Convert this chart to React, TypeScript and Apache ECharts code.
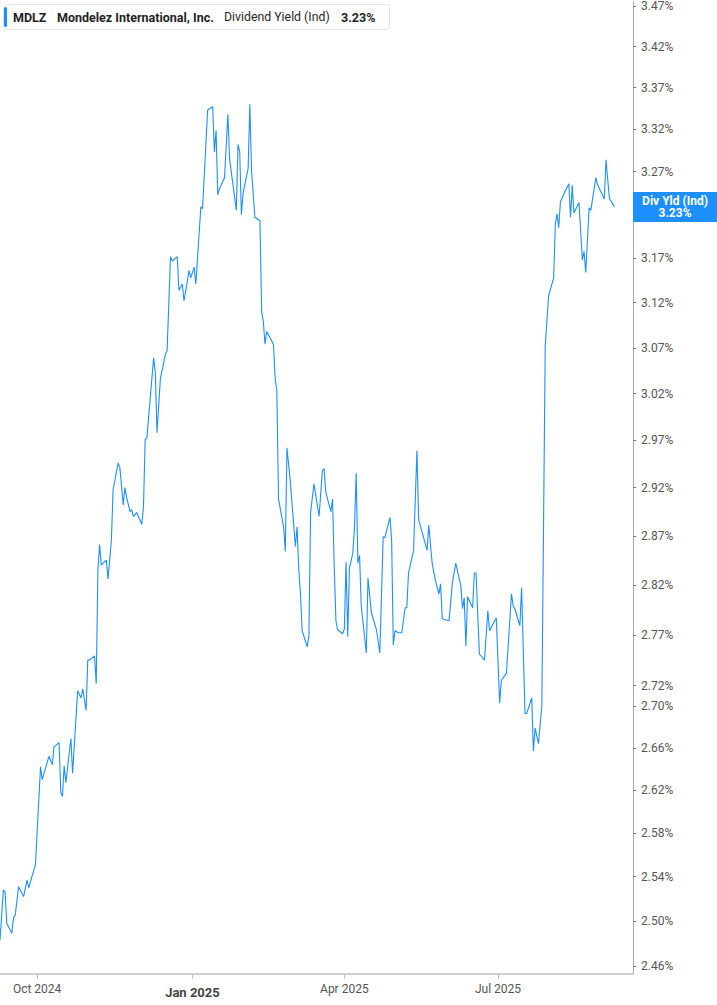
import React, { useEffect, useRef } from "react";
import * as echarts from "echarts";

const TICKER = "MDLZ";
const COMPANY = "Mondelez International, Inc.";
const METRIC = "Dividend Yield (Ind)";
const TAG_LABEL = "Div Yld (Ind)";

const DATES = [
  "2024-09-09","2024-09-11","2024-09-12","2024-09-13","2024-09-16","2024-09-17","2024-09-18","2024-09-20","2024-09-23","2024-09-25",
  "2024-09-26","2024-09-30","2024-10-03","2024-10-04","2024-10-08","2024-10-10","2024-10-11","2024-10-14","2024-10-15","2024-10-16",
  "2024-10-17","2024-10-18","2024-10-21","2024-10-22","2024-10-25","2024-10-27","2024-10-28","2024-10-30","2024-10-31","2024-11-01",
  "2024-11-04","2024-11-05","2024-11-06","2024-11-07","2024-11-08","2024-11-09","2024-11-11","2024-11-12","2024-11-14","2024-11-15",
  "2024-11-18","2024-11-19","2024-11-21","2024-11-22","2024-11-23","2024-11-25","2024-11-26","2024-11-27","2024-11-29","2024-11-30",
  "2024-12-02","2024-12-03","2024-12-04","2024-12-05","2024-12-09","2024-12-10","2024-12-11","2024-12-13","2024-12-16","2024-12-17",
  "2024-12-19","2024-12-20","2024-12-23","2024-12-24","2024-12-26","2024-12-27","2024-12-30","2024-12-31","2025-01-02","2025-01-03",
  "2025-01-06","2025-01-07","2025-01-10","2025-01-13","2025-01-14","2025-01-15","2025-01-16","2025-01-17","2025-01-20","2025-01-22",
  "2025-01-23","2025-01-27","2025-01-28","2025-01-29","2025-01-30","2025-01-31","2025-02-03","2025-02-04","2025-02-05","2025-02-07",
  "2025-02-10","2025-02-11","2025-02-12","2025-02-13","2025-02-14","2025-02-18","2025-02-19","2025-02-20","2025-02-21","2025-02-24",
  "2025-02-25","2025-02-26","2025-02-28","2025-03-03","2025-03-04","2025-03-05","2025-03-06","2025-03-07","2025-03-10","2025-03-11",
  "2025-03-12","2025-03-14","2025-03-17","2025-03-19","2025-03-20","2025-03-21","2025-03-24","2025-03-25","2025-03-26","2025-03-27",
  "2025-03-28","2025-03-31","2025-04-01","2025-04-02","2025-04-03","2025-04-04","2025-04-06","2025-04-07","2025-04-08","2025-04-09",
  "2025-04-10","2025-04-11","2025-04-14","2025-04-15","2025-04-17","2025-04-20","2025-04-22","2025-04-24","2025-04-25","2025-04-28",
  "2025-04-29","2025-04-30","2025-05-01","2025-05-03","2025-05-05","2025-05-07","2025-05-08","2025-05-09","2025-05-12","2025-05-14",
  "2025-05-15","2025-05-20","2025-05-21","2025-05-23","2025-05-25","2025-05-27","2025-05-28","2025-05-29","2025-06-02","2025-06-04",
  "2025-06-06","2025-06-09","2025-06-10","2025-06-11","2025-06-12","2025-06-13","2025-06-16","2025-06-17","2025-06-18","2025-06-20",
  "2025-06-23","2025-06-25","2025-06-26","2025-06-30","2025-07-02","2025-07-03","2025-07-06","2025-07-09","2025-07-10","2025-07-11",
  "2025-07-14","2025-07-15","2025-07-17","2025-07-18","2025-07-21","2025-07-22","2025-07-23","2025-07-25","2025-07-27","2025-07-29",
  "2025-07-31","2025-08-03","2025-08-04","2025-08-05","2025-08-06","2025-08-07","2025-08-10","2025-08-12","2025-08-13","2025-08-14",
  "2025-08-15","2025-08-18","2025-08-20","2025-08-21","2025-08-22","2025-08-24","2025-08-25","2025-08-28","2025-08-29","2025-09-02",
  "2025-09-03","2025-09-05","2025-09-08"
];

const YIELDS = [
  2.483, 2.528, 2.526, 2.498, 2.489, 2.503, 2.505, 2.531, 2.522, 2.537,
  2.530, 2.551, 2.642, 2.630, 2.652, 2.644, 2.661, 2.665, 2.618, 2.614,
  2.643, 2.627, 2.669, 2.636, 2.715, 2.708, 2.717, 2.696, 2.745, 2.745,
  2.749, 2.722, 2.835, 2.861, 2.840, 2.842, 2.845, 2.826, 2.866, 2.918,
  2.946, 2.941, 2.902, 2.920, 2.910, 2.895, 2.897, 2.890, 2.894, 2.890,
  2.882, 2.900, 2.971, 2.972, 3.059, 3.043, 2.978, 3.036, 3.063, 3.067,
  3.172, 3.167, 3.172, 3.134, 3.141, 3.122, 3.156, 3.148, 3.160, 3.141,
  3.229, 3.227, 3.343, 3.347, 3.293, 3.319, 3.243, 3.250, 3.263, 3.338,
  3.285, 3.225, 3.302, 3.294, 3.220, 3.245, 3.274, 3.350, 3.272, 3.217,
  3.213, 3.110, 3.099, 3.074, 3.088, 3.074, 3.037, 3.023, 2.908, 2.879,
  2.854, 2.962, 2.926, 2.859, 2.879, 2.835, 2.811, 2.774, 2.758, 2.769,
  2.894, 2.924, 2.890, 2.938, 2.940, 2.915, 2.895, 2.908, 2.838, 2.784,
  2.775, 2.771, 2.776, 2.843, 2.768, 2.837, 2.852, 2.879, 2.935, 2.842,
  2.850, 2.799, 2.752, 2.827, 2.792, 2.775, 2.752, 2.869, 2.868, 2.889,
  2.866, 2.760, 2.774, 2.772, 2.772, 2.797, 2.797, 2.832, 2.855, 2.959,
  2.887, 2.855, 2.881, 2.842, 2.824, 2.811, 2.821, 2.786, 2.784, 2.822,
  2.842, 2.819, 2.796, 2.807, 2.759, 2.808, 2.797, 2.832, 2.832, 2.751,
  2.745, 2.794, 2.774, 2.787, 2.703, 2.725, 2.732, 2.811, 2.799, 2.796,
  2.779, 2.817, 2.693, 2.693, 2.708, 2.657, 2.679, 2.664, 2.701, 3.072,
  3.128, 3.148, 3.210, 3.221, 3.205, 3.235, 3.248, 3.256, 3.217, 3.254,
  3.222, 3.234, 3.168, 3.178, 3.154, 3.228, 3.225, 3.263, 3.255, 3.238,
  3.284, 3.239, 3.229
];

// Tick positions on the right axis; the 3.22% label sits behind the value tag, so only its tick is drawn.
const Y_TICKS = [2.46, 2.5, 2.54, 2.58, 2.62, 2.66, 2.7, 2.72, 2.77, 2.82, 2.87, 2.92, 2.97, 3.02, 3.07, 3.12, 3.17, 3.22, 3.27, 3.32, 3.37, 3.42, 3.47];
const Y_LABELS = [2.46, 2.5, 2.54, 2.58, 2.62, 2.66, 2.7, 2.72, 2.77, 2.82, 2.87, 2.92, 2.97, 3.02, 3.07, 3.12, 3.17, 3.27, 3.32, 3.37, 3.42, 3.47];
const X_TICKS = ["2024-10-01", "2025-01-01", "2025-04-01", "2025-07-01"];
const MONTHS = ["Jan", "Feb", "Mar", "Apr", "May", "Jun", "Jul", "Aug", "Sep", "Oct", "Nov", "Dec"];
const Y_MIN = 2.453;
const Y_MAX = 3.475;
const X_MIN = "2024-09-09";
const X_MAX = "2025-09-19";

const BLUE = "#1e8fff";
const FONT = "Roboto, 'Noto Sans', sans-serif";

function ts(s: string): number {
  const [y, m, d] = s.split("-").map(Number);
  return new Date(y, m - 1, d).getTime();
}

export default function App() {
  const ref = useRef<HTMLDivElement>(null);

  useEffect(() => {
    const chart = echarts.init(ref.current!, null, { renderer: "svg" });
    const last = YIELDS[YIELDS.length - 1];
    const lastStr = last.toFixed(2) + "%";
    const xTickVals = X_TICKS.map(ts);
    const yTickVals = Y_TICKS.map((v) => Math.log(v));
    const yLabelVals = Y_LABELS.map((v) => Math.log(v));

    chart.setOption({
      animation: false,
      backgroundColor: "#ffffff",
      grid: { left: 0, right: 84, top: 0, bottom: 31, containLabel: false },
      xAxis: {
        type: "value",
        min: ts(X_MIN),
        max: ts(X_MAX),
        axisLine: { show: true, lineStyle: { color: "#c2c2c2", width: 1.5 } },
        axisTick: { show: true, customValues: xTickVals, length: 5, lineStyle: { color: "#c2c2c2", width: 1 } },
        axisLabel: {
          customValues: xTickVals,
          margin: 9,
          color: "#555",
          fontFamily: FONT,
          fontSize: 12,
          formatter: (v: number) => {
            const d = new Date(v);
            const label = MONTHS[d.getMonth()] + " " + d.getFullYear();
            return d.getMonth() === 0 ? "{b|" + label + "}" : "{a|" + label + "}";
          },
          rich: {
            a: { fontFamily: FONT, fontSize: 12, color: "#555" },
            b: { fontFamily: FONT, fontSize: 13, fontWeight: "bold", color: "#444", padding: [3, 0, 0, 0] },
          },
        },
        splitLine: { show: false },
      },
      yAxis: {
        type: "value",
        position: "right",
        min: Math.log(Y_MIN),
        max: Math.log(Y_MAX),
        axisLine: { show: true, lineStyle: { color: "#a8a8a8", width: 1 } },
        axisTick: { show: true, customValues: yTickVals, length: 3, lineStyle: { color: "#777" } },
        axisLabel: {
          customValues: yLabelVals,
          margin: 8,
          color: "#555",
          fontFamily: FONT,
          fontSize: 12,
          formatter: (v: number) => Math.exp(v).toFixed(2) + "%",
        },
        splitLine: { show: false },
      },
      series: [
        {
          type: "line",
          data: DATES.map((d, i) => [ts(d), Math.log(YIELDS[i])]),
          showSymbol: false,
          symbol: "none",
          lineStyle: { width: 1.1, color: BLUE },
          itemStyle: { color: BLUE },
          clip: true,
        },
      ],
    });

    const yPix = chart.convertToPixel({ yAxisIndex: 0 }, Math.log(last)) as number;
    const axisX = 717 - 84;

    chart.setOption({
      graphic: [
        {
          type: "group",
          z: 100,
          children: [
            { type: "rect", shape: { x: 3.5, y: 4.5, width: 386, height: 25, r: 3 }, style: { fill: "#fff", stroke: "#e4e4e4", lineWidth: 1 }, z: 100 },
            { type: "rect", shape: { x: 4, y: 7, width: 3, height: 20, r: 1.5 }, style: { fill: BLUE }, z: 101 },
            { type: "text", x: 13, y: 17, style: { text: TICKER, font: "bold 12.5px " + FONT, fill: "#1f1f1f", textVerticalAlign: "middle" }, z: 101 },
            { type: "text", x: 57, y: 17, style: { text: COMPANY, font: "bold 12.5px " + FONT, fill: "#1f1f1f", textVerticalAlign: "middle" }, z: 101 },
            { type: "text", x: 224, y: 17, style: { text: METRIC, font: "12.3px " + FONT, fill: "#1f1f1f", textVerticalAlign: "middle" }, z: 101 },
            { type: "text", x: 341, y: 17, style: { text: lastStr, font: "bold 12.5px " + FONT, fill: "#1f1f1f", textVerticalAlign: "middle" }, z: 101 },
          ],
        },
        {
          type: "group",
          z: 100,
          children: [
            { type: "rect", shape: { x: axisX, y: yPix - 15, width: 717 - axisX, height: 30 }, style: { fill: BLUE }, z: 100 },
            {
              type: "text",
              x: axisX + 42,
              y: yPix + 0.5,
              style: {
                text: TAG_LABEL + "\n" + lastStr,
                font: "bold 12px " + FONT,
                lineHeight: 12,
                fill: "#fff",
                textAlign: "center",
                textVerticalAlign: "middle",
              },
              z: 101,
            },
          ],
        },
      ],
    });

    return () => chart.dispose();
  }, []);

  return <div ref={ref} style={{ position: "absolute", left: 0, top: 0, width: 717, height: 1005 }} />;
}
